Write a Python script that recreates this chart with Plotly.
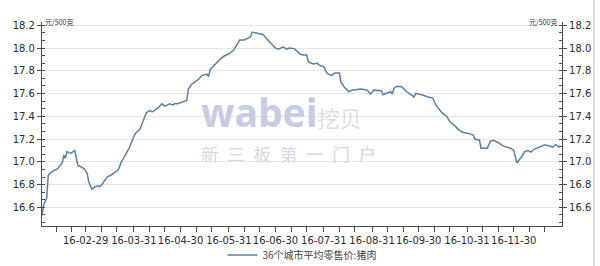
import plotly.graph_objects as go

# ---- data ----
dates = [
    "2016-02-01", "2016-02-02", "2016-02-04", "2016-02-05", "2016-02-07", "2016-02-11",
    "2016-02-14", "2016-02-15", "2016-02-16", "2016-02-17", "2016-02-19", "2016-02-20",
    "2016-02-22", "2016-02-23", "2016-02-24", "2016-02-28", "2016-03-01", "2016-03-02",
    "2016-03-04", "2016-03-06", "2016-03-08", "2016-03-09", "2016-03-11", "2016-03-14",
    "2016-03-16", "2016-03-19", "2016-03-21", "2016-03-23", "2016-03-25", "2016-03-28",
    "2016-03-30", "2016-04-01", "2016-04-04", "2016-04-06", "2016-04-08", "2016-04-10",
    "2016-04-12", "2016-04-16", "2016-04-18", "2016-04-20", "2016-04-23", "2016-04-25",
    "2016-04-26", "2016-04-28", "2016-05-02", "2016-05-04", "2016-05-05", "2016-05-07",
    "2016-05-09", "2016-05-11", "2016-05-12", "2016-05-13", "2016-05-14", "2016-05-17",
    "2016-05-18", "2016-05-19", "2016-05-21", "2016-05-23", "2016-05-26", "2016-05-28",
    "2016-05-31", "2016-06-03", "2016-06-05", "2016-06-07", "2016-06-10", "2016-06-12",
    "2016-06-13", "2016-06-14", "2016-06-15", "2016-06-18", "2016-06-22", "2016-06-24",
    "2016-06-26", "2016-06-28", "2016-06-30", "2016-07-02", "2016-07-05", "2016-07-07",
    "2016-07-09", "2016-07-12", "2016-07-14", "2016-07-16", "2016-07-18", "2016-07-20",
    "2016-07-21", "2016-07-24", "2016-07-27", "2016-07-28", "2016-07-31", "2016-08-02",
    "2016-08-05", "2016-08-07", "2016-08-10", "2016-08-11", "2016-08-13", "2016-08-16",
    "2016-08-18", "2016-08-24", "2016-08-28", "2016-08-30", "2016-09-01", "2016-09-06",
    "2016-09-07", "2016-09-12", "2016-09-13", "2016-09-14", "2016-09-16", "2016-09-19",
    "2016-09-22", "2016-09-25", "2016-09-27", "2016-09-28", "2016-10-02", "2016-10-06",
    "2016-10-09", "2016-10-11", "2016-10-15", "2016-10-18", "2016-10-20", "2016-10-23",
    "2016-10-25", "2016-10-28", "2016-11-01", "2016-11-04", "2016-11-05", "2016-11-08",
    "2016-11-09", "2016-11-13", "2016-11-15", "2016-11-17", "2016-11-20", "2016-11-23",
    "2016-11-25", "2016-11-28", "2016-11-30", "2016-12-01", "2016-12-02", "2016-12-05",
    "2016-12-07", "2016-12-09", "2016-12-11", "2016-12-13", "2016-12-16", "2016-12-20",
    "2016-12-23", "2016-12-25", "2016-12-27", "2016-12-29", "2016-12-30",
]
pork_price = [
    16.53, 16.62, 16.68, 16.88, 16.91, 16.94,
    16.99, 17.06, 17.03, 17.09, 17.075, 17.08,
    17.10, 17.045, 16.97, 16.94, 16.90, 16.825,
    16.76, 16.78, 16.79, 16.78, 16.81, 16.87,
    16.88, 16.91, 16.93, 17.00, 17.045, 17.12,
    17.19, 17.25, 17.29, 17.37, 17.43, 17.45,
    17.44, 17.48, 17.51, 17.49, 17.51, 17.50,
    17.51, 17.51, 17.53, 17.54, 17.64, 17.68,
    17.70, 17.72, 17.73, 17.75, 17.76, 17.77,
    17.75, 17.81, 17.84, 17.87, 17.91, 17.93,
    17.95, 17.98, 18.03, 18.07, 18.07, 18.085,
    18.10, 18.10, 18.14, 18.13, 18.12, 18.085,
    18.055, 18.03, 18.00, 17.99, 18.01, 17.99,
    18.00, 17.995, 17.97, 17.945, 17.94, 17.94,
    17.88, 17.86, 17.866, 17.85, 17.836, 17.78,
    17.76, 17.78, 17.78, 17.70, 17.66, 17.616,
    17.63, 17.64, 17.63, 17.596, 17.63, 17.625,
    17.59, 17.616, 17.596, 17.645, 17.665, 17.66,
    17.62, 17.59, 17.57, 17.60, 17.59, 17.57,
    17.56, 17.50, 17.43, 17.40, 17.35, 17.32,
    17.29, 17.26, 17.25, 17.235, 17.20, 17.19,
    17.12, 17.12, 17.18, 17.19, 17.17, 17.14,
    17.13, 17.12, 17.10, 17.05, 16.99, 17.045,
    17.09, 17.10, 17.085, 17.11, 17.13, 17.15,
    17.14, 17.13, 17.15, 17.13, 17.14,
]
series_name = "36个城市平均零售价:猪肉"
unit_label = "元/500克"

# x-axis ticks: labelled month ends, plus unlabelled ticks on the 10th and 20th
label_dates = ["2016-02-29", "2016-03-31", "2016-04-30", "2016-05-31", "2016-06-30",
               "2016-07-31", "2016-08-31", "2016-09-30", "2016-10-31", "2016-11-30"]
label_texts = ["16-02-29", "16-03-31", "16-04-30", "16-05-31", "16-06-30",
               "16-07-31", "16-08-31", "16-09-30", "16-10-31", "16-11-30"]
months = ["02", "03", "04", "05", "06", "07", "08", "09", "10", "11", "12"]

y_ticks = [16.6, 16.8, 17.0, 17.2, 17.4, 17.6, 17.8, 18.0, 18.2]

# ---- build tick arrays ----
tickvals, ticktext = [], []
for i, m in enumerate(months):
    for d in ("10", "20"):
        tickvals.append(f"2016-{m}-{d}")
        ticktext.append("")
    if i < len(label_dates):
        tickvals.append(label_dates[i])
        ticktext.append(label_texts[i])

AX = "#4d4d4d"
FONT = "DejaVu Sans, Noto Sans CJK SC, sans-serif"
CJK = "Noto Sans CJK SC, sans-serif"
yrange = [16.436, 18.229]

fig = go.Figure()
fig.add_trace(go.Scatter(
    x=dates, y=pork_price, mode="lines", name=series_name,
    line=dict(color="#5d7fa3", width=1.5),
))
# same series mapped to the right-hand axis (invisible) so that axis is drawn
fig.add_trace(go.Scatter(
    x=dates, y=pork_price, mode="lines", yaxis="y2", showlegend=False,
    hoverinfo="skip", line=dict(color="rgba(0,0,0,0)", width=0),
))

yaxis_common = dict(
    range=yrange, tickvals=y_ticks, tickformat=".1f",
    ticks="outside", ticklen=4, tickcolor=AX, tickwidth=1,
    showline=True, linecolor=AX, linewidth=1.2,
    zeroline=False,
    tickfont=dict(family=FONT, size=10, color="#2b2b2b"),
    minor=dict(ticks="inside", ticklen=3, tickcolor=AX, dtick=0.2 / 3, tick0=16.6,
               showgrid=False),
)

fig.update_layout(
    width=600, height=266,
    margin=dict(l=42, r=38, t=22, b=40, autoexpand=False),
    paper_bgcolor="white", plot_bgcolor="white",
    font=dict(family=FONT, color="#333333"),
    showlegend=True,
    legend=dict(orientation="h", x=0.5, xanchor="center", y=-0.142, yanchor="middle",
                font=dict(family=CJK, size=10, color="#444444"),
                itemwidth=30, bgcolor="rgba(0,0,0,0)"),
    xaxis=dict(
        type="date", range=["2016-02-01", "2016-12-31"],
        tickmode="array", tickvals=tickvals, ticktext=ticktext, tickangle=0,
        ticks="outside", ticklen=5, tickcolor=AX, tickwidth=1,
        showline=True, linecolor=AX, linewidth=1.2,
        showgrid=False, zeroline=False, automargin=False,
        tickfont=dict(family=FONT, size=10, color="#2b2b2b"),
    ),
    yaxis=dict(**yaxis_common, showgrid=True, gridcolor="#e6e6e6", gridwidth=1,
               automargin=False),
    yaxis2=dict(**yaxis_common, overlaying="y", side="right", showgrid=False,
                automargin=False),
)

# unit labels at the top of both axes
fig.add_annotation(text=unit_label, xref="paper", yref="paper", x=0, y=1,
                   xanchor="left", yanchor="middle", xshift=1, showarrow=False,
                   font=dict(family=CJK, size=7, color="#333333"))
fig.add_annotation(text=unit_label, xref="paper", yref="paper", x=1, y=1,
                   xanchor="right", yanchor="middle", xshift=-3, showarrow=False,
                   font=dict(family=CJK, size=7, color="#333333"))

# watermark
fig.add_annotation(
    text=("<b>wabei</b><span style='font-family:Noto Sans CJK SC;font-size:22px;"
          "color:#dcdde6'>挖贝</span>"),
    xref="paper", yref="paper", x=0.304, y=0.427,
    xanchor="left", yanchor="bottom", showarrow=False, borderpad=0,
    font=dict(family="Open Sans, sans-serif", size=39, color="#c6cce2"))
fig.add_annotation(
    text="\u2002".join("新三板第一门户"),
    xref="paper", yref="paper", x=0.304, y=0.422,
    xanchor="left", yanchor="top", showarrow=False, borderpad=0,
    font=dict(family=CJK, size=17.5, color="#d6d8e2"))

# thin frame line at the right edge of the picture
fig.add_shape(type="line", xref="paper", yref="paper",
              x0=1.0615, x1=1.0615, y0=-0.2, y1=1.11,
              line=dict(color="#bdbdbd", width=1))

fig.write_html("out.html")
